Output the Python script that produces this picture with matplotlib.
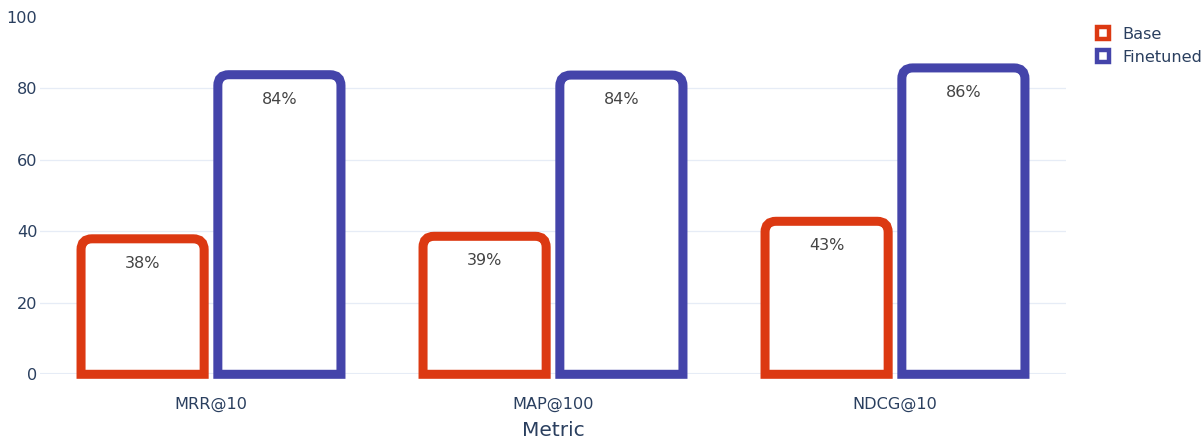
import matplotlib
matplotlib.use("Agg")
import matplotlib.pyplot as plt
from matplotlib.path import Path
from matplotlib.patches import PathPatch
from matplotlib.lines import Line2D
import numpy as np

# data
metrics = ["MRR@10", "MAP@100", "NDCG@10"]
base = [37.9, 38.6, 42.8]
finetuned = [83.8, 83.7, 85.7]
series_names = ["Base", "Finetuned"]
colors = ["#dc3912", "#4444aa"]
yticks = [0, 20, 40, 60, 80, 100]

W, H = 1201, 440
fig = plt.figure(figsize=(W / 100, H / 100), dpi=100)
ax_left, ax_right = 40, 1066
ax_top, ax_bottom = 16.8, 374.3
ax = fig.add_axes([ax_left / W, (H - ax_bottom) / H,
                   (ax_right - ax_left) / W, (ax_bottom - ax_top) / H])

ax.set_xlim(-0.5, len(metrics) - 0.5)
ax.set_ylim(0, 100)

# pixels per data unit, used to keep the corner radius round
px_x = (ax_right - ax_left) / len(metrics)
px_y = (ax_bottom - ax_top) / 100


def rounded_bar(x0, x1, h, r_px=11):
    rx = r_px / px_x
    ry = min(r_px / px_y, h / 2)
    verts = [(x0, 0), (x0, h - ry), (x0, h), (x0 + rx, h),
             (x1 - rx, h), (x1, h), (x1, h - ry), (x1, 0), (x0, 0)]
    codes = [Path.MOVETO, Path.LINETO, Path.CURVE3, Path.CURVE3,
             Path.LINETO, Path.CURVE3, Path.CURVE3, Path.LINETO, Path.CLOSEPOLY]
    return Path(verts, codes)


bar_w = 0.36
offsets = [-0.2, 0.2]
x = np.arange(len(metrics))
for vals, off, col in zip([base, finetuned], offsets, colors):
    for xi, v in zip(x, vals):
        c = xi + off
        patch = PathPatch(rounded_bar(c - bar_w / 2, c + bar_w / 2, v),
                          facecolor="white", edgecolor=col, linewidth=6.5,
                          joinstyle="miter", clip_on=False, zorder=3)
        ax.add_patch(patch)
        ax.annotate(f"{v:.0f}%", (c, v), xytext=(0, -17.5),
                    textcoords="offset points", ha="center", va="center",
                    fontsize=11.5, color="#444444", zorder=4)

# grid like the plotly white template
for t in yticks[1:-1]:
    ax.axhline(t, color="#e6ecf6", linewidth=0.9, zorder=0)
ax.axhline(0, color="#e6ecf6", linewidth=1.5, zorder=0)

for s in ax.spines.values():
    s.set_visible(False)
ax.set_yticks(yticks)
ax.set_xticks(x)
ax.set_xticklabels(metrics)
ax.tick_params(axis="both", length=0, colors="#2a3f5f", labelsize=11.6)
ax.tick_params(axis="y", pad=2)
ax.tick_params(axis="x", pad=16)
ax.set_xlabel("Metric", fontsize=14.5, color="#2a3f5f", labelpad=7)

handles = [Line2D([], [], linestyle="none", marker="s", markersize=8.5,
                  markerfacecolor="white", markeredgecolor=c,
                  markeredgewidth=3.2) for c in colors]
fig.legend(handles, series_names, loc="upper left",
           bbox_to_anchor=(1095 / W, 1 - 27 / H), frameon=False,
           fontsize=11.6, labelcolor="#2a3f5f", handlelength=1.0,
           handletextpad=0.7, labelspacing=0.5, borderpad=0,
           borderaxespad=0)

fig.savefig("out.png", dpi=100)
